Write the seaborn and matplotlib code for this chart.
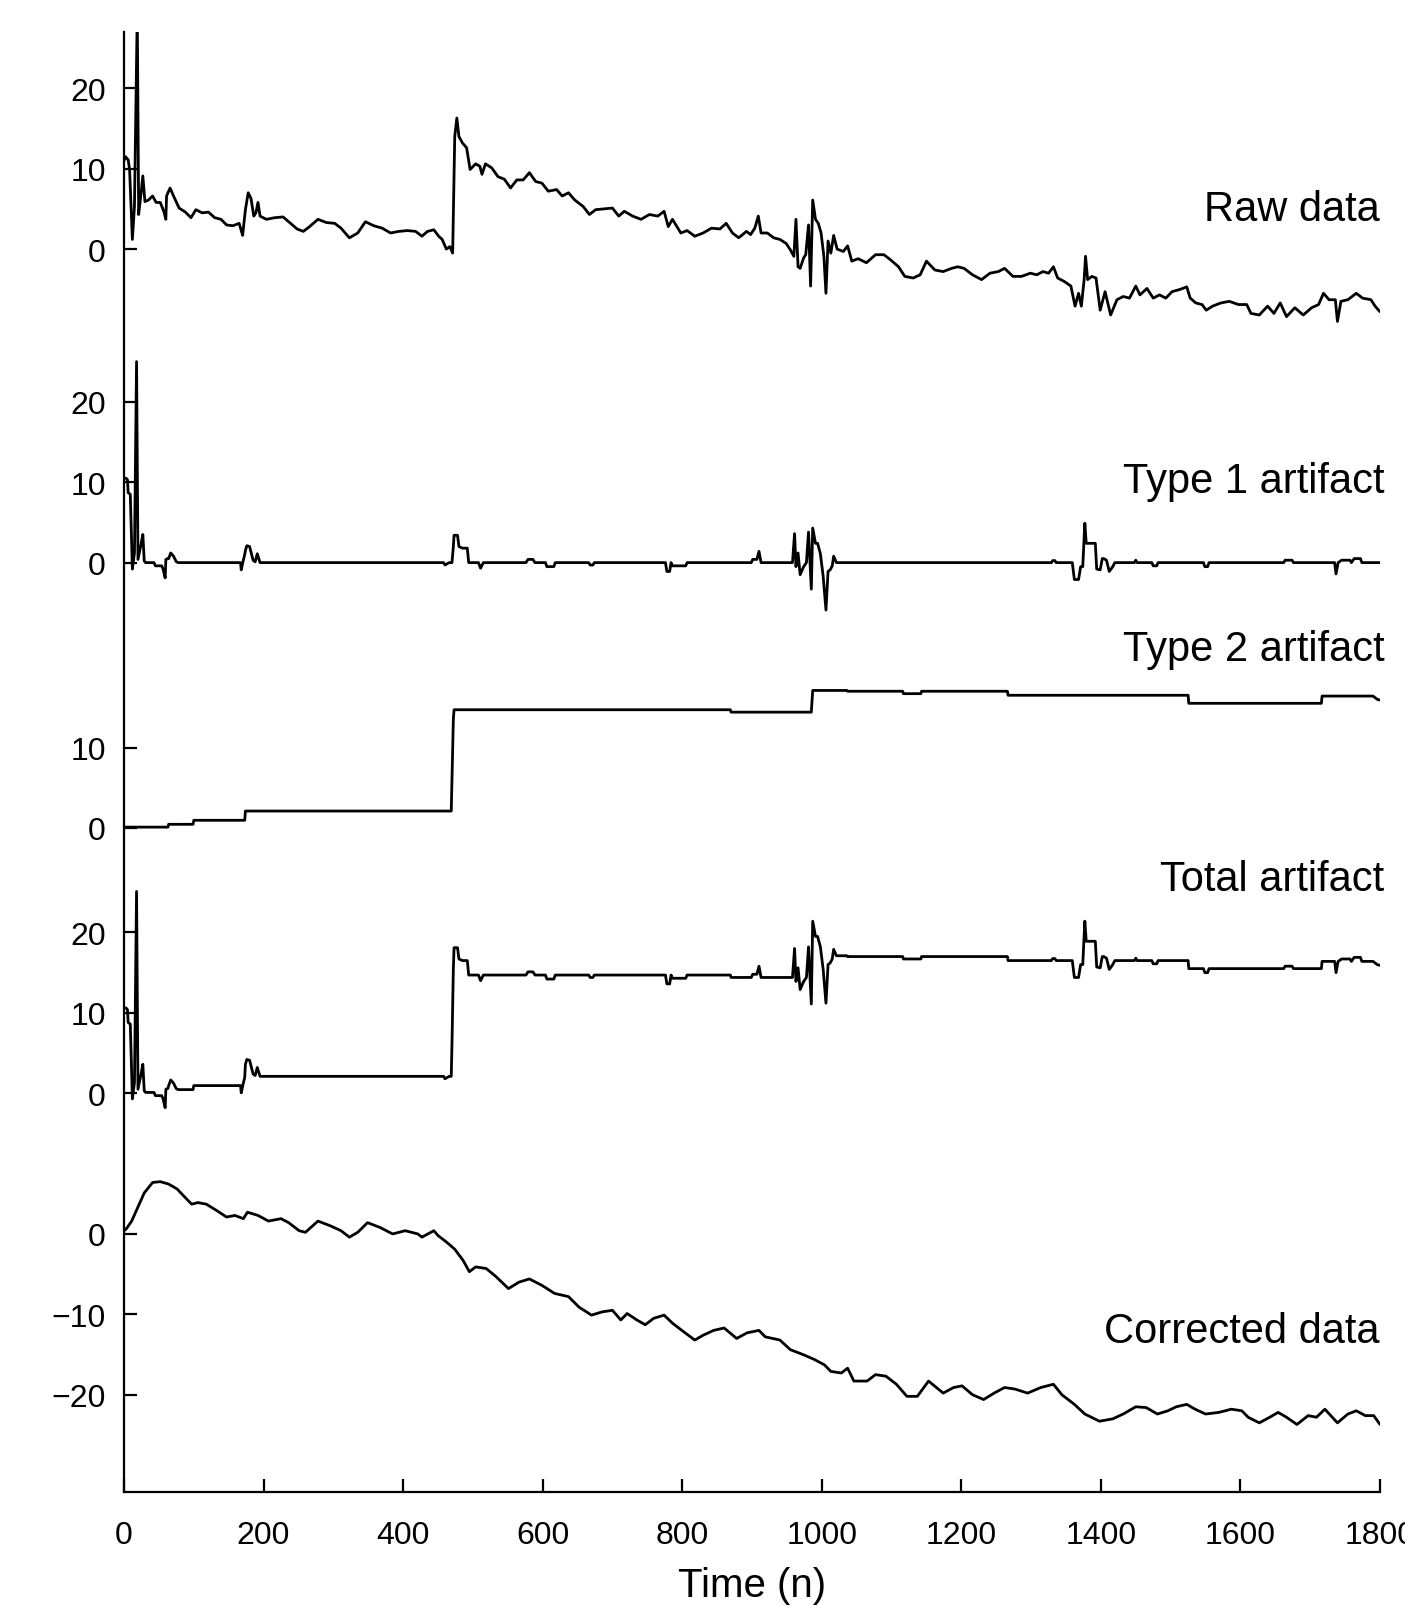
import matplotlib
matplotlib.use("Agg")
import matplotlib.pyplot as plt
import seaborn as sns
import pandas as pd

# raw recording (top trace), sample index and value
raw_n = [0, 2, 6, 8, 12, 15, 19, 21, 24, 27, 30, 35, 41, 46, 52, 57, 60, 61, 66, 71,
         79, 88, 96, 103, 112, 121, 130, 139, 147, 156, 165, 170, 174, 178, 182, 186, 189, 192, 195, 204,
         216, 228, 236, 248, 257, 266, 278, 290, 302, 311, 323, 335, 346, 358, 370, 382, 394, 406, 418, 427,
         435, 444, 451, 456, 462, 467, 471, 474, 477, 480, 485, 491, 496, 504, 510, 513, 518, 527, 536, 545,
         554, 563, 572, 581, 590, 599, 608, 620, 628, 637, 646, 658, 667, 676, 688, 700, 709, 717, 729, 741,
         753, 765, 774, 780, 786, 798, 807, 818, 830, 842, 854, 863, 872, 881, 892, 898, 904, 909, 913, 922,
         931, 940, 949, 955, 960, 963, 966, 969, 974, 977, 981, 984, 987, 991, 995, 999, 1003, 1006, 1009, 1013,
         1017, 1022, 1031, 1037, 1043, 1052, 1064, 1077, 1089, 1098, 1110, 1119, 1131, 1141, 1150, 1162, 1174, 1186, 1195, 1204,
         1216, 1229, 1241, 1253, 1262, 1274, 1286, 1299, 1308, 1317, 1325, 1332, 1338, 1347, 1357, 1363, 1368, 1372, 1376, 1378,
         1381, 1387, 1393, 1399, 1406, 1414, 1423, 1432, 1441, 1450, 1456, 1466, 1475, 1484, 1493, 1502, 1514, 1523, 1528, 1536,
         1545, 1551, 1560, 1572, 1584, 1597, 1609, 1615, 1627, 1639, 1648, 1657, 1666, 1678, 1690, 1702, 1712, 1719, 1727, 1736,
         1739, 1744, 1754, 1766, 1775, 1787, 1793, 1800]
raw_val = [11.0, 11.5, 11.1, 9.9, 1.2, 5.3, 29.5, 4.3, 6.6, 9.1, 5.9, 6.1, 6.6, 5.8, 5.8, 4.7, 3.7, 6.6, 7.6, 6.6,
           5.1, 4.6, 3.9, 4.9, 4.5, 4.6, 3.9, 3.7, 3.0, 2.9, 3.2, 1.7, 4.9, 7.0, 6.3, 4.1, 4.5, 5.8, 4.1, 3.7,
           3.9, 4.0, 3.4, 2.5, 2.2, 2.8, 3.7, 3.3, 3.2, 2.6, 1.4, 2.0, 3.4, 2.9, 2.6, 2.0, 2.2, 2.3, 2.2, 1.6,
           2.2, 2.4, 1.6, 1.2, 0.0, 0.3, -0.5, 14.0, 16.3, 14.0, 13.2, 12.6, 9.9, 10.6, 10.3, 9.3, 10.6, 10.1, 9.0, 8.7,
           7.6, 8.6, 8.6, 9.5, 8.4, 8.2, 7.2, 7.4, 6.6, 7.0, 6.1, 5.3, 4.3, 4.9, 5.0, 5.1, 4.1, 4.7, 4.1, 3.7,
           4.3, 4.1, 4.7, 2.8, 3.7, 2.0, 2.3, 1.6, 2.0, 2.6, 2.5, 3.2, 2.0, 1.4, 2.2, 1.8, 2.6, 4.1, 2.0, 2.0,
           1.4, 1.2, 0.7, -0.1, -0.9, 3.7, -2.2, -2.4, -1.1, -0.7, 3.0, -4.6, 6.1, 3.7, 3.2, 2.0, -0.9, -5.5, 1.0, -0.5,
           1.7, 0.0, -0.3, 0.4, -1.5, -1.2, -1.7, -0.7, -0.7, -1.3, -2.2, -3.4, -3.6, -3.2, -1.5, -2.6, -2.8, -2.4, -2.2, -2.4,
           -3.2, -3.8, -3.0, -2.8, -2.4, -3.4, -3.4, -3.0, -3.2, -2.8, -3.0, -2.2, -3.6, -4.0, -4.6, -7.1, -5.5, -7.1, -3.8, -0.9,
           -3.8, -3.4, -3.6, -7.6, -5.3, -8.2, -6.3, -5.9, -6.1, -4.6, -5.7, -4.9, -6.1, -5.7, -6.1, -5.3, -5.0, -4.7, -6.1, -6.7,
           -6.9, -7.6, -7.1, -6.7, -6.5, -6.9, -6.9, -8.0, -8.2, -7.1, -8.0, -6.7, -8.4, -7.3, -8.2, -7.3, -6.9, -5.5, -6.3, -6.3,
           -9.0, -6.5, -6.3, -5.5, -6.1, -6.3, -7.1, -7.8]

# artifact components on a shared sample grid
art_n = [0, 3, 5, 6, 9, 12, 15, 18, 20, 24, 27, 29, 31, 43, 45, 54, 56, 59, 60, 63,
         64, 67, 71, 75, 78, 99, 100, 167, 168, 171, 173, 174, 176, 180, 185, 188, 191, 195, 458, 460,
         466, 469, 470, 472, 473, 478, 480, 485, 492, 494, 508, 511, 515, 576, 579, 586, 589, 604, 606, 616,
         618, 666, 668, 672, 674, 776, 778, 782, 784, 786, 805, 807, 869, 870, 899, 901, 907, 910, 913, 958,
         961, 963, 966, 969, 974, 978, 981, 985, 987, 991, 994, 998, 1002, 1006, 1009, 1012, 1015, 1017, 1021, 1036,
         1037, 1116, 1117, 1142, 1143, 1266, 1267, 1329, 1331, 1334, 1336, 1359, 1362, 1368, 1371, 1374, 1377, 1379, 1392, 1394,
         1399, 1402, 1404, 1408, 1412, 1417, 1420, 1448, 1450, 1452, 1473, 1475, 1480, 1482, 1525, 1526, 1547, 1549, 1553, 1555,
         1662, 1664, 1674, 1676, 1716, 1717, 1735, 1737, 1740, 1745, 1757, 1759, 1763, 1772, 1774, 1790, 1796, 1800]
type1_val = [10.5, 10.5, 10.3, 8.7, 8.5, -0.8, 1.2, 25.0, 0.4, 2.1, 3.5, 0.2, 0.0, 0.0, -0.4, -0.4, -0.8, -1.9, 0.4, 0.5,
             0.5, 1.2, 0.8, 0.1, 0.0, 0.0, 0.0, 0.0, -0.9, 0.3, 1.0, 1.5, 2.1, 2.0, 0.3, 0.1, 1.1, 0.0, 0.0, -0.3,
             0.0, 0.0, 0.0, 2.0, 3.4, 3.4, 2.0, 1.8, 1.8, 0.0, 0.0, -0.7, 0.0, 0.0, 0.4, 0.4, 0.0, 0.0, -0.5, -0.5,
             0.0, 0.0, -0.3, -0.3, 0.0, 0.0, -1.1, -1.1, 0.0, -0.4, -0.4, 0.0, 0.0, 0.0, 0.0, 0.4, 0.4, 1.4, 0.0, 0.0,
             3.6, -0.5, 1.2, -1.5, -0.5, 0.0, 3.8, -3.3, 4.3, 2.4, 2.4, 1.1, -1.7, -5.9, -1.1, -0.9, -0.4, 0.8, 0.0, 0.0,
             0.0, 0.0, 0.0, 0.0, 0.0, 0.0, 0.0, 0.0, 0.25, 0.25, 0.0, 0.0, -2.1, -2.1, -0.5, -0.5, 4.9, 2.4, 2.4, -0.8,
             -0.9, 0.5, 0.5, 0.3, -1.1, -0.5, 0.0, 0.0, 0.3, 0.0, 0.0, -0.4, -0.4, 0.0, 0.0, 0.0, 0.0, -0.5, -0.5, 0.0,
             0.0, 0.3, 0.3, 0.0, 0.0, 0.0, 0.0, -1.4, 0.0, 0.3, 0.3, 0.0, 0.5, 0.5, 0.0, 0.0, 0.0, 0.0]
type2_val = [0.1, 0.1, 0.1, 0.1, 0.1, 0.1, 0.1, 0.1, 0.1, 0.1, 0.1, 0.1, 0.1, 0.1, 0.1, 0.1, 0.1, 0.1, 0.1, 0.1,
             0.45, 0.45, 0.45, 0.45, 0.45, 0.45, 0.95, 0.95, 0.95, 0.95, 0.95, 2.1, 2.1, 2.1, 2.1, 2.1, 2.1, 2.1, 2.1, 2.1,
             2.1, 2.1, 6.0, 13.5, 14.7, 14.7, 14.7, 14.7, 14.7, 14.7, 14.7, 14.7, 14.7, 14.7, 14.7, 14.7, 14.7, 14.7, 14.7, 14.7,
             14.7, 14.7, 14.7, 14.7, 14.7, 14.7, 14.7, 14.7, 14.7, 14.7, 14.7, 14.7, 14.7, 14.4, 14.4, 14.4, 14.4, 14.4, 14.4, 14.4,
             14.4, 14.4, 14.4, 14.4, 14.4, 14.4, 14.4, 14.4, 17.1, 17.1, 17.1, 17.1, 17.1, 17.1, 17.1, 17.1, 17.1, 17.1, 17.1, 17.1,
             17.0, 17.0, 16.7, 16.7, 17.0, 17.0, 16.5, 16.5, 16.5, 16.5, 16.5, 16.5, 16.5, 16.5, 16.5, 16.5, 16.5, 16.5, 16.5, 16.5,
             16.5, 16.5, 16.5, 16.5, 16.5, 16.5, 16.5, 16.5, 16.5, 16.5, 16.5, 16.5, 16.5, 16.5, 16.5, 15.5, 15.5, 15.5, 15.5, 15.5,
             15.5, 15.5, 15.5, 15.5, 15.5, 16.4, 16.4, 16.4, 16.4, 16.4, 16.4, 16.4, 16.4, 16.4, 16.4, 16.4, 16.0, 15.9]

# corrected signal (bottom trace)
cor_n = [0, 3, 11, 29, 41, 52, 64, 76, 88, 97, 106, 118, 133, 147, 159, 171, 177, 192, 207, 225,
         236, 251, 260, 278, 296, 311, 323, 335, 349, 367, 385, 403, 421, 427, 444, 450, 462, 474, 486, 495,
         504, 519, 533, 551, 566, 581, 599, 617, 637, 652, 670, 685, 700, 712, 721, 735, 747, 759, 774, 786,
         801, 818, 830, 845, 860, 878, 893, 910, 919, 940, 955, 973, 989, 1004, 1013, 1028, 1037, 1046, 1065, 1077,
         1092, 1107, 1122, 1137, 1153, 1174, 1189, 1201, 1216, 1232, 1247, 1262, 1277, 1295, 1314, 1332, 1344, 1362, 1377, 1398,
         1417, 1432, 1450, 1465, 1481, 1496, 1508, 1523, 1535, 1550, 1569, 1587, 1602, 1611, 1627, 1642, 1654, 1666, 1681, 1697,
         1709, 1721, 1739, 1754, 1766, 1779, 1791, 1800]
cor_val = [0.4, 0.6, 1.6, 5.1, 6.4, 6.5, 6.2, 5.6, 4.5, 3.7, 3.9, 3.7, 2.9, 2.1, 2.3, 1.9, 2.7, 2.3, 1.6, 1.9,
           1.4, 0.4, 0.2, 1.6, 1.0, 0.4, -0.4, 0.2, 1.4, 0.8, 0.0, 0.4, 0.0, -0.4, 0.4, -0.2, -1.0, -1.9, -3.3, -4.7,
           -4.1, -4.3, -5.3, -6.8, -6.0, -5.6, -6.4, -7.4, -7.8, -9.1, -10.1, -9.7, -9.5, -10.7, -9.9, -10.7, -11.3, -10.5, -10.1, -11.1,
           -12.1, -13.2, -12.6, -12.0, -11.7, -13.0, -12.3, -12.0, -12.8, -13.2, -14.4, -15.0, -15.6, -16.3, -17.1, -17.3, -16.7, -18.3, -18.3, -17.5,
           -17.7, -18.7, -20.2, -20.2, -18.3, -19.8, -19.1, -18.9, -20.0, -20.6, -19.8, -19.1, -19.3, -19.8, -19.1, -18.7, -20.0, -21.2, -22.4, -23.3,
           -23.0, -22.4, -21.5, -21.6, -22.4, -22.0, -21.5, -21.2, -21.8, -22.4, -22.2, -21.8, -22.0, -22.8, -23.5, -22.8, -22.2, -22.8, -23.7, -22.6,
           -22.8, -21.8, -23.5, -22.4, -22.0, -22.6, -22.6, -23.7]

trace_names = ["Raw data", "Type 1 artifact", "Type 2 artifact", "Total artifact", "Corrected data"]
trace_ticks = [[0, 10, 20], [0, 10, 20], [0, 10], [0, 10, 20], [0, -10, -20]]

# vertical stacking of the traces (baseline of each in shared units) and label heights
offsets = [0, -39, -72, -105, -122.5]
label_dy = [3.6, 8.8, 20.9, 25.3, -13.5]
label_x = [1800, 1806, 1806, 1806, 1800]

raw = pd.DataFrame({"n": raw_n, "value": raw_val})
art = pd.DataFrame({"n": art_n, "type1": type1_val, "type2": type2_val})
art["total"] = art["type1"] + art["type2"]
cor = pd.DataFrame({"n": cor_n, "value": cor_val})

traces = [
    (raw["n"], raw["value"]),
    (art["n"], art["type1"]),
    (art["n"], art["type2"]),
    (art["n"], art["total"]),
    (cor["n"], cor["value"]),
]

sns.set_style("ticks")
plt.rcParams["font.family"] = ["Liberation Sans", "DejaVu Sans"]
plt.rcParams.update({
    "text.color": "black",
    "axes.labelcolor": "black",
    "axes.edgecolor": "black",
    "xtick.color": "black",
    "ytick.color": "black",
})

fig = plt.figure(figsize=(14.05, 16.06), dpi=100)
ax = fig.add_axes([124 / 1405, 1 - 1493 / 1606, (1380 - 124) / 1405, (1493 - 33) / 1606])

for (xs, ys), off in zip(traces, offsets):
    sns.lineplot(x=xs, y=ys + off, ax=ax, color="black", linewidth=2.0,
                 estimator=None, sort=False)

for name, off, dy, lx in zip(trace_names, offsets, label_dy, label_x):
    ax.text(lx, off + dy, name, ha="right", va="baseline", fontsize=30, clip_on=False)

ytick_pos = []
ytick_lab = []
for ticks, off in zip(trace_ticks, offsets):
    for t in ticks:
        ytick_pos.append(off + t)
        ytick_lab.append(str(t).replace("-", "\u2212"))
ax.set_yticks(ytick_pos)
ax.set_yticklabels(ytick_lab)

ax.set_xlim(0, 1800)
ax.set_ylim(-154.6, 27)
ax.set_xticks(range(0, 1801, 200))
ax.set_xlabel("Time (n)", fontsize=29, labelpad=12)
ax.set_ylabel("")

for side in ["top", "right"]:
    ax.spines[side].set_visible(False)
for side in ["left", "bottom"]:
    ax.spines[side].set_linewidth(1.6)

ax.tick_params(axis="both", direction="in", length=9.5, width=1.6, labelsize=23)
ax.tick_params(axis="y", pad=13)
ax.tick_params(axis="x", pad=20)

fig.savefig("out.png", dpi=100)
